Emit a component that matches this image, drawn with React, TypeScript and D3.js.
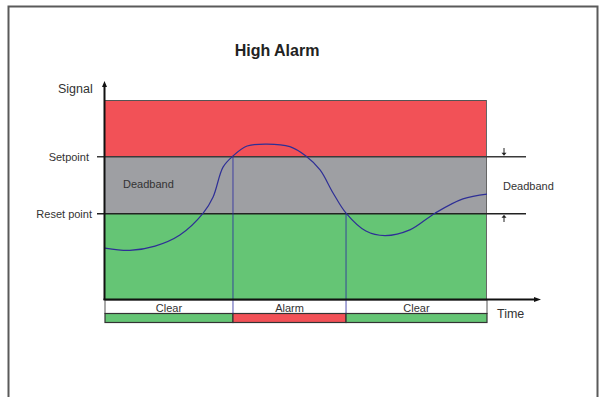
import React from "react";
import * as d3 from "d3";

// ---- data ----
const timeDomain = [0, 100];
const signalDomain = [0, 7];
const setpoint = 5;
const resetPoint = 3;
const curveTimes = [0, 6.5, 13.1, 19.6, 25.7, 28.3, 30.9, 33.5, 37.2, 42.4, 48.4, 52.6, 56.3, 59.7, 63.1, 68.3, 73.3, 79.8, 86.4, 93.7, 100];
const curveSignal = [1.79, 1.71, 1.86, 2.25, 3.02, 3.59, 4.64, 5.03, 5.38, 5.45, 5.36, 5.03, 4.54, 3.73, 3.02, 2.39, 2.23, 2.43, 3.02, 3.52, 3.69];
const segmentLabels = ["Clear", "Alarm", "Clear"];
const segmentStarts = [0, 33.5, 63.1];
const segmentEnds = [33.5, 63.1, 100];
const segmentStates = ["clear", "alarm", "clear"];

const RED = "#f25157";
const GRAY = "#9e9fa3";
const GREEN = "#65c575";
const TEXT = "#333333";
const FONT = "'Liberation Sans', Arial, sans-serif";

export default function App() {
  const x = d3.scaleLinear().domain(timeDomain).range([105, 487]);
  const y = d3.scaleLinear().domain(signalDomain).range([299, 100]);
  const pts = curveTimes.map((t, i) => [t, curveSignal[i]] as [number, number]);
  const line = d3
    .line<[number, number]>()
    .x((d) => x(d[0]))
    .y((d) => y(d[1]))
    .curve(d3.curveCatmullRom.alpha(0.5));

  const x0 = x(timeDomain[0]);
  const x1 = x(timeDomain[1]);
  const yTop = y(signalDomain[1]);
  const ySet = y(setpoint);
  const yRes = y(resetPoint);
  const yBot = y(signalDomain[0]);
  const statusTop = yBot + 1;
  const statusMid = 313.5;
  const statusBot = 322.5;

  return (
    <svg
      width={601}
      height={397}
      style={{ position: "fixed", left: 0, top: 0, background: "#fff" }}
      fontFamily={FONT}
    >
      {/* frame */}
      <path d="M8.5,400 V6.5 H597.5 V400" fill="none" stroke="#5a5a5a" strokeWidth={2} />

      <text x={277} y={56} textAnchor="middle" fontSize={16} fontWeight="bold" fill="#222">
        High Alarm
      </text>

      {/* bands */}
      <rect x={x0} y={yTop} width={x1 - x0} height={ySet - yTop} fill={RED} />
      <rect x={x0} y={ySet} width={x1 - x0} height={yRes - ySet} fill={GRAY} />
      <rect x={x0} y={yRes} width={x1 - x0} height={yBot - yRes} fill={GREEN} />
      <line x1={x0} x2={x1} y1={yTop + 0.5} y2={yTop + 0.5} stroke="#555" strokeWidth={1} />
      <line x1={x1 - 0.5} x2={x1 - 0.5} y1={yTop} y2={yBot} stroke="#666" strokeWidth={1} />
      <line x1={97} x2={526} y1={ySet} y2={ySet} stroke="#3a3a3a" strokeWidth={1.5} />
      <line x1={97} x2={526} y1={yRes} y2={yRes} stroke="#222" strokeWidth={1.5} />

      {/* labels */}
      <text x={58} y={93} fontSize={12.5} fill={TEXT}>Signal</text>
      <text x={89} y={ySet + 4} textAnchor="end" fontSize={11} fill={TEXT}>Setpoint</text>
      <text x={92} y={yRes + 4} textAnchor="end" fontSize={11} fill={TEXT}>Reset point</text>
      <text x={123} y={188} fontSize={11} fill={TEXT}>Deadband</text>
      <text x={503} y={190} fontSize={11} fill={TEXT}>Deadband</text>
      <text x={497} y={318} fontSize={12.5} fill={TEXT}>Time</text>

      {/* deadband arrows */}
      <line x1={504} x2={504} y1={148} y2={ySet - 3} stroke="#222" strokeWidth={1} />
      <path d={`M501.5,${ySet - 4} L506.5,${ySet - 4} L504,${ySet - 1} Z`} fill="#222" />
      <line x1={504} x2={504} y1={yRes + 3} y2={222} stroke="#222" strokeWidth={1} />
      <path d={`M501.5,${yRes + 4} L506.5,${yRes + 4} L504,${yRes + 1} Z`} fill="#222" />

      {/* status band */}
      <rect x={x0} y={statusTop} width={x1 - x0} height={statusMid - statusTop} fill="#fff" stroke="#555" strokeWidth={1} />
      {segmentLabels.map((lab, i) => {
        const sx = x(segmentStarts[i]);
        const ex = x(segmentEnds[i]);
        return (
          <g key={i}>
            <rect
              x={sx}
              y={statusMid}
              width={ex - sx}
              height={statusBot - statusMid}
              fill={segmentStates[i] === "alarm" ? RED : GREEN}
              stroke="#333"
              strokeWidth={1.2}
            />
            <text x={(sx + ex) / 2} y={311.5} textAnchor="middle" fontSize={11} fill={TEXT}>
              {lab}
            </text>
          </g>
        );
      })}

      {/* transition lines */}
      <line x1={x(segmentStarts[1])} x2={x(segmentStarts[1])} y1={ySet} y2={statusMid} stroke="#2b2ba0" strokeOpacity={0.55} strokeWidth={1.5} />
      <line x1={x(segmentEnds[1])} x2={x(segmentEnds[1])} y1={yRes} y2={statusMid} stroke="#2b2ba0" strokeOpacity={0.55} strokeWidth={1.5} />

      {/* signal curve */}
      <path d={line(pts) || ""} fill="none" stroke="#2e2f96" strokeWidth={1.2} />

      {/* axes */}
      <line x1={x0 - 0.5} x2={x0 - 0.5} y1={yBot + 1} y2={86} stroke="#111" strokeWidth={2} />
      <path d={`M${x0 - 3},87 L${x0 + 2},87 L${x0 - 0.5},81 Z`} fill="#111" />
      <line x1={x0 - 1.5} x2={535} y1={yBot + 0.5} y2={yBot + 0.5} stroke="#111" strokeWidth={2} />
      <path d={`M534,${yBot - 2} L534,${yBot + 3} L541,${yBot + 0.5} Z`} fill="#111" />
    </svg>
  );
}
